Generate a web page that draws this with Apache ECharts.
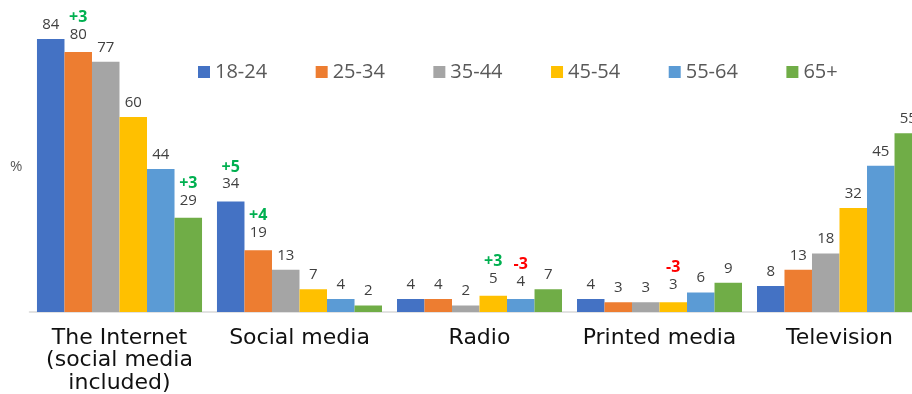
<!DOCTYPE html>
<html><head><meta charset="utf-8">
<script src="https://cdn.jsdelivr.net/npm/echarts@6/dist/echarts.min.js"></script>
<style>html,body{margin:0;padding:0;background:#fff}#c{width:912px;height:394px}</style>
</head><body><div id="c"></div>
<script>
const categories = ['The Internet\n(social media\nincluded)', 'Social media', 'Radio', 'Printed media', 'Television'];
const seriesNames = ['18-24', '25-34', '35-44', '45-54', '55-64', '65+'];
const v1824 = [84, 34, 4, 4, 8];
const v2534 = [80, 19, 4, 3, 13];
const v3544 = [77, 13, 2, 3, 18];
const v4554 = [60, 7, 5, 3, 32];
const v5564 = [44, 4, 4, 6, 45];
const v65p  = [29, 2, 7, 9, 55];
const d1824 = ['', '+5', '', '', ''];
const d2534 = ['+3', '+4', '', '', ''];
const d3544 = ['', '', '', '', ''];
const d4554 = ['', '', '+3', '-3', ''];
const d5564 = ['', '', '-3', '', ''];
const d65p  = ['+3', '', '', '', ''];
const colors = ['#4472C4', '#ED7D31', '#A5A5A5', '#FFC000', '#5B9BD5', '#70AD47'];

const values = [v1824, v2534, v3544, v4554, v5564, v65p];
const deltas = [d1824, d2534, d3544, d4554, d5564, d65p];

const chart = echarts.init(document.getElementById('c'), null, {renderer: 'canvas'});
const series = seriesNames.map((name, i) => ({
  name, type: 'bar', barGap: '0%', barCategoryGap: '8.3%',
  data: values[i].map((v, j) => deltas[i][j] ? {value: v, label: {distance: 9}} : v),
  itemStyle: {color: colors[i]},
  label: {
    show: true, position: 'top', distance: 6,
    formatter: p => {
      const d = deltas[i][p.dataIndex];
      if (!d) return '{v|' + p.value + '}';
      return '{' + (d[0] === '-' ? 'n' : 'p') + '|' + d + '}\n{v|' + p.value + '}';
    },
    rich: {
      v: {fontSize: 15, color: '#404040', fontFamily: 'Open Sans', lineHeight: 17},
      p: {fontSize: 16, color: '#00B050', fontWeight: 'bold', fontFamily: 'Open Sans', lineHeight: 17},
      n: {fontSize: 16, color: '#FF0000', fontWeight: 'bold', fontFamily: 'Open Sans', lineHeight: 17}
    }
  }
}));

chart.setOption({
  animation: false,
  color: colors,
  grid: {left: 29.5, width: 900, top: 19.5, bottom: 82, containLabel: false, outerBoundsMode: 'none'},
  legend: {
    data: seriesNames, left: 193, top: 57, itemWidth: 12, itemHeight: 12, itemGap: 48.5,
    icon: 'rect',
    textStyle: {fontSize: 20, color: '#595959', fontFamily: 'Open Sans'}
  },
  xAxis: {
    type: 'category', data: categories,
    axisLine: {lineStyle: {color: '#D9D9D9', width: 1.5}},
    axisTick: {show: false},
    axisLabel: {fontSize: 22, color: '#111', fontFamily: 'DejaVu Sans', lineHeight: 22.5, margin: 15, interval: 0}
  },
  yAxis: {
    type: 'value', min: 0, max: 90, show: false
  },
  graphic: [{type: 'text', left: 10, top: 159, style: {text: '%', fontSize: 15, fill: '#595959', fontFamily: 'Open Sans'}}],
  series
});
</script></body></html>
